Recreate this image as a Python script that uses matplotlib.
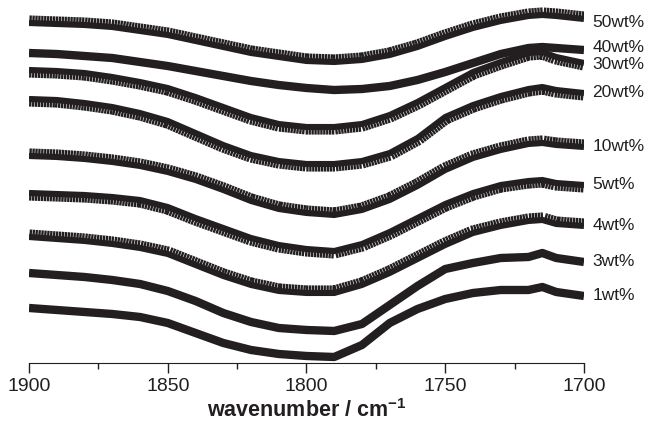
import numpy as np
import matplotlib.pyplot as plt
from matplotlib import patheffects as pe

# wavenumber grid (cm-1) and offset absorbance traces
wavenumber = [1900, 1890, 1880, 1870, 1860, 1850, 1840, 1830, 1820, 1810, 1800,
              1790, 1780, 1770, 1760, 1750, 1740, 1730, 1720, 1715, 1710, 1700]

wt1 = [0.55, 0.53, 0.51, 0.49, 0.46, 0.40, 0.30, 0.20, 0.13, 0.09, 0.07,
       0.06, 0.18, 0.40, 0.54, 0.64, 0.70, 0.73, 0.73, 0.76, 0.71, 0.67]
wt3 = [0.90, 0.88, 0.86, 0.83, 0.79, 0.72, 0.62, 0.50, 0.41, 0.35, 0.33,
       0.32, 0.39, 0.58, 0.77, 0.94, 1.00, 1.05, 1.06, 1.10, 1.05, 1.01]
wt4 = [1.26, 1.24, 1.22, 1.19, 1.15, 1.09, 0.98, 0.87, 0.78, 0.72, 0.70,
       0.70, 0.78, 0.90, 1.04, 1.18, 1.30, 1.37, 1.42, 1.43, 1.39, 1.37]
wt5 = [1.70, 1.69, 1.68, 1.66, 1.63, 1.56, 1.45, 1.35, 1.25, 1.18, 1.14,
       1.12, 1.19, 1.31, 1.45, 1.59, 1.70, 1.78, 1.82, 1.83, 1.80, 1.78]
wt10 = [2.07, 2.06, 2.04, 2.01, 1.97, 1.91, 1.83, 1.73, 1.62, 1.54, 1.50,
        1.48, 1.53, 1.63, 1.77, 1.93, 2.05, 2.13, 2.19, 2.20, 2.18, 2.16]
wt20 = [2.64, 2.63, 2.60, 2.56, 2.50, 2.42, 2.30, 2.18, 2.08, 2.02, 1.99,
        1.99, 2.02, 2.10, 2.25, 2.46, 2.58, 2.67, 2.74, 2.76, 2.73, 2.70]
wt30 = [2.93, 2.92, 2.90, 2.86, 2.81, 2.75, 2.66, 2.56, 2.46, 2.39, 2.36,
        2.36, 2.39, 2.48, 2.61, 2.76, 2.91, 3.01, 3.10, 3.11, 3.06, 3.00]
wt40 = [3.10, 3.09, 3.07, 3.05, 3.01, 2.97, 2.92, 2.87, 2.82, 2.78, 2.75,
        2.73, 2.74, 2.77, 2.83, 2.91, 3.00, 3.09, 3.15, 3.16, 3.15, 3.13]
wt50 = [3.40, 3.39, 3.38, 3.36, 3.32, 3.28, 3.22, 3.16, 3.10, 3.06, 3.02,
        3.01, 3.03, 3.08, 3.16, 3.26, 3.35, 3.42, 3.47, 3.48, 3.47, 3.44]

labels = ["1wt%", "3wt%", "4wt%", "5wt%", "10wt%", "20wt%", "30wt%", "40wt%", "50wt%"]
series = [wt1, wt3, wt4, wt5, wt10, wt20, wt30, wt40, wt50]
# sawtooth side: +90 teeth on top (up triangles), -90 below, None smooth
teeth = [None, None, 90, -90, 90, -90, -90, None, 90]

ink = "#231f20"
plt.rcParams['font.family'] = ['Liberation Sans', 'DejaVu Sans']
plt.rcParams['mathtext.fontset'] = 'custom'
plt.rcParams['mathtext.rm'] = 'Liberation Sans:bold'
plt.rcParams['mathtext.bf'] = 'Liberation Sans:bold'
plt.rcParams['mathtext.default'] = 'rm'

fig = plt.figure(figsize=(6.49, 4.24), dpi=100)
ax = fig.add_axes([0.0447, 0.1439, 0.8551, 0.8443])

for y, lab, side in zip(series, labels, teeth):
    if side is None:
        ax.plot(wavenumber, y, color=ink, lw=6.0, solid_joinstyle='round',
                solid_capstyle='butt')
    else:
        ax.plot(wavenumber, y, color=ink, lw=4.4, solid_joinstyle='round',
                solid_capstyle='butt',
                path_effects=[pe.TickedStroke(spacing=2.1, angle=side, length=2.6,
                                              linewidth=1.7, foreground=ink),
                              pe.Normal()])

# curve labels at the right end
nudge = {"40wt%": 0.03, "30wt%": -0.01, "50wt%": -0.03}
for y, lab in zip(series, labels):
    ax.text(1697, y[-1] + nudge.get(lab, 0.0), lab, fontsize=12.5, color=ink,
            ha='left', va='center', clip_on=False)

ax.set_xlim(1900, 1700)
ax.set_ylim(0, 3.58)
ax.set_xticks([1900, 1850, 1800, 1750, 1700])
ax.set_xticks([1875, 1825, 1775, 1725], minor=True)
ax.tick_params(axis='x', which='major', direction='out', length=7, width=1,
               labelsize=14, pad=4, colors=ink)
ax.tick_params(axis='x', which='minor', direction='out', length=4, width=1, colors=ink)
ax.set_yticks([])
for s in ['left', 'right', 'top']:
    ax.spines[s].set_visible(False)
ax.spines['bottom'].set_color(ink)
ax.set_xlabel("wavenumber / cm$^{-1}$", fontsize=15.5, fontweight='bold',
              labelpad=3, color=ink)

fig.savefig("out.png", dpi=100)
